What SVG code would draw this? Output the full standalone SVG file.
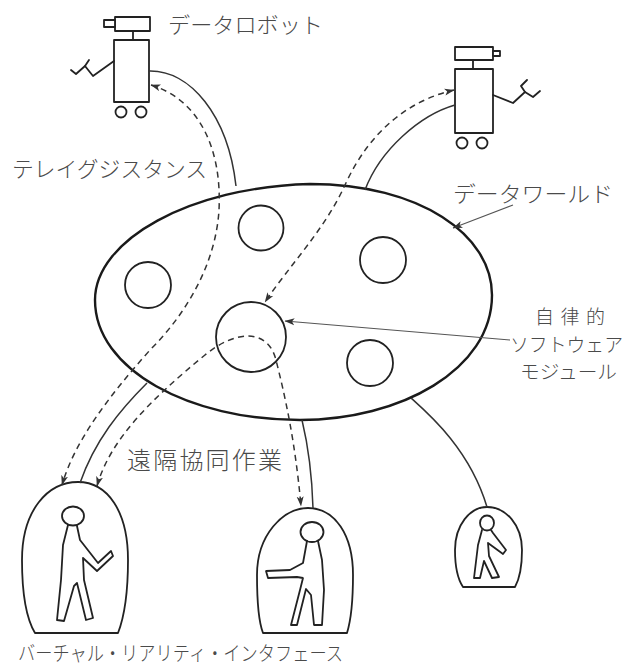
<svg xmlns="http://www.w3.org/2000/svg" width="629" height="667" viewBox="0 0 629 667">
  <style>
    .ln { fill: none; stroke: #222; stroke-width: 1.8; stroke-linejoin: round; stroke-linecap: round; }
    .thick { fill: none; stroke: #1a1a1a; stroke-width: 2.4; }
    .dash { fill: none; stroke: #333; stroke-width: 1.5; stroke-dasharray: 6 4.5; }
    .conn { fill: none; stroke: #333; stroke-width: 1.5; }
    .lead { fill: none; stroke: #555; stroke-width: 1.1; }
    .body { fill: #fff; stroke: #222; stroke-width: 1.8; stroke-linejoin: round; }
    .txt { font-family: "Noto Sans CJK JP", "Noto Sans", sans-serif; fill: #4a4a4a; font-weight: 300; }
  </style>
  <defs>
    <marker id="arr" viewBox="0 0 10 8" refX="9.5" refY="4" markerWidth="10" markerHeight="8" markerUnits="userSpaceOnUse" orient="auto-start-reverse">
      <path d="M0,0.5 L10,4 L0,7.5 L2.5,4 Z" fill="#333"/>
    </marker>
  </defs>

  <rect width="629" height="667" fill="#fff"/>

  <!-- data world -->
  <g id="data-world">
    <path class="thick" d="M95,300 C95,240 190,187 310,184 C420,184 492,235 492,295 C492,370 400,420 300,420 C190,420 95,370 95,300 Z"/>
    <circle class="ln" cx="261" cy="228" r="22.5"/>
    <circle class="ln" cx="148" cy="285" r="23"/>
    <circle class="ln" cx="383" cy="260" r="23"/>
    <circle class="ln" cx="370" cy="363" r="23"/>
  </g>
  <g id="module">
    <circle class="ln" cx="251" cy="337" r="35"/>
  </g>

  <!-- robot (left) -->
  <g id="robot-left">
    <rect class="body" x="115" y="17" width="35" height="14"/>
    <rect class="body" x="104" y="20" width="11" height="7"/>
    <line class="ln" x1="133" y1="31" x2="133" y2="40"/>
    <rect class="body" x="114" y="40" width="35" height="62"/>
    <circle class="ln" cx="121" cy="112" r="5.5"/>
    <circle class="ln" cx="141" cy="112" r="5.5"/>
    <polyline class="ln" points="114,61 93,76 85,66 89,60"/>
    <polyline class="ln" points="85,66 76,74 71,70"/>
  </g>

  <!-- robot (right) -->
  <g id="robot-right">
    <rect class="body" x="455" y="47" width="38" height="13"/>
    <rect class="body" x="493" y="51" width="7" height="5"/>
    <line class="ln" x1="473" y1="60" x2="473" y2="69"/>
    <rect class="body" x="455" y="69" width="38" height="64"/>
    <circle class="ln" cx="462" cy="143" r="5.5"/>
    <circle class="ln" cx="482" cy="143" r="5.5"/>
    <polyline class="ln" points="493,95 513,103 525,92 521,86 527,80"/>
    <polyline class="ln" points="525,92 533,97 540,91"/>
  </g>

  <!-- interface booth 1 -->
  <g id="booth-1">
    <path class="ln" d="M35,633 C26,618 22,590 22,560 C22,510 48,482 78,482 C108,482 128,512 128,560 C128,590 125,615 118,633 Z"/>
    <ellipse class="ln" cx="73" cy="516" rx="11" ry="9.5"/>
    <path class="ln" d="M68,525 L63,545 L61,580 L57,620 L64,621 L74,586 L77,583 L86,620 L93,618 L84,580 L83,558 L97,571 L113,556 L111,551 L98,563 L80,540 L77,526"/>
  </g>

  <!-- interface booth 2 -->
  <g id="booth-2">
    <path class="ln" d="M263,633 C258,620 257,595 257,575 C257,535 283,508 308,508 C335,508 353,535 353,575 C353,600 351,620 347,633 Z"/>
    <ellipse class="ln" cx="312" cy="532" rx="11.5" ry="10"/>
    <path class="ln" d="M318,541 L322,560 L324,590 L322,625 L314,625 L311,595 L306,589 L297,625 L291,625 L300,590 L303,578 L297,577 L268,578 L266,571 L290,570 L303,563 L307,541"/>
  </g>

  <!-- interface booth 3 -->
  <g id="booth-3">
    <path class="ln" d="M463,587 C457,578 455,565 455,550 C455,525 470,507 487,507 C506,507 522,525 522,550 C522,565 520,578 515,587 Z"/>
    <ellipse class="ln" cx="487" cy="523" rx="7" ry="7.5"/>
    <path class="ln" d="M482,530 L478,545 L474,578 L480,578 L484,561 L492,578 L499,577 L489,556 L488,543 L503,554 L506,550 L493,533 L491,530"/>
  </g>

  <!-- connectors -->
  <g id="connectors">
    <path class="conn" d="M149,71 C190,70 228,115 236,186"/>
    <path class="conn" d="M455,105 C420,115 380,150 365,190"/>
    <path class="conn" d="M147,383 C120,410 95,440 80,483"/>
    <path class="conn" d="M302,420 C308,445 312,475 313,508"/>
    <path class="conn" d="M411,398 C430,415 470,450 487,507"/>
    <path class="dash" marker-start="url(#arr)" marker-end="url(#arr)" d="M151,85 C200,100 222,150 219,210 C216,260 190,310 150,350 C110,395 75,440 62,485"/>
    <path class="dash" marker-start="url(#arr)" marker-end="url(#arr)" d="M454,90 C410,100 370,130 345,185 C325,229 290,265 265,302"/>
    <path class="dash" marker-start="url(#arr)" marker-end="url(#arr)" d="M97,486 C110,440 150,400 205,355 C235,330 268,328 276,360 C285,396 295,440 301,506"/>
    <path class="lead" marker-end="url(#arr)" d="M513,205 L453,228"/>
    <path class="lead" marker-end="url(#arr)" d="M510,340 L285,321"/>
  </g>

  <!-- labels -->
  <g id="labels">
    <text class="txt" x="168" y="33" font-size="22" textLength="155" lengthAdjust="spacingAndGlyphs">データロボット</text>
    <text class="txt" x="12" y="177" font-size="22" textLength="195" lengthAdjust="spacingAndGlyphs">テレイグジスタンス</text>
    <text class="txt" x="453" y="202" font-size="22" textLength="160" lengthAdjust="spacingAndGlyphs">データワールド</text>
    <text class="txt" x="535" y="324" font-size="19" textLength="70" lengthAdjust="spacing">自律的</text>
    <text class="txt" x="510" y="352" font-size="19" textLength="113" lengthAdjust="spacingAndGlyphs">ソフトウェア</text>
    <text class="txt" x="520" y="379" font-size="19" textLength="97" lengthAdjust="spacingAndGlyphs">モジュール</text>
    <text class="txt" x="127" y="469" font-size="24" textLength="155" lengthAdjust="spacing">遠隔協同作業</text>
    <text class="txt" x="18" y="661" font-size="20" textLength="325" lengthAdjust="spacingAndGlyphs">バーチャル・リアリティ・インタフェース</text>
  </g>
</svg>
